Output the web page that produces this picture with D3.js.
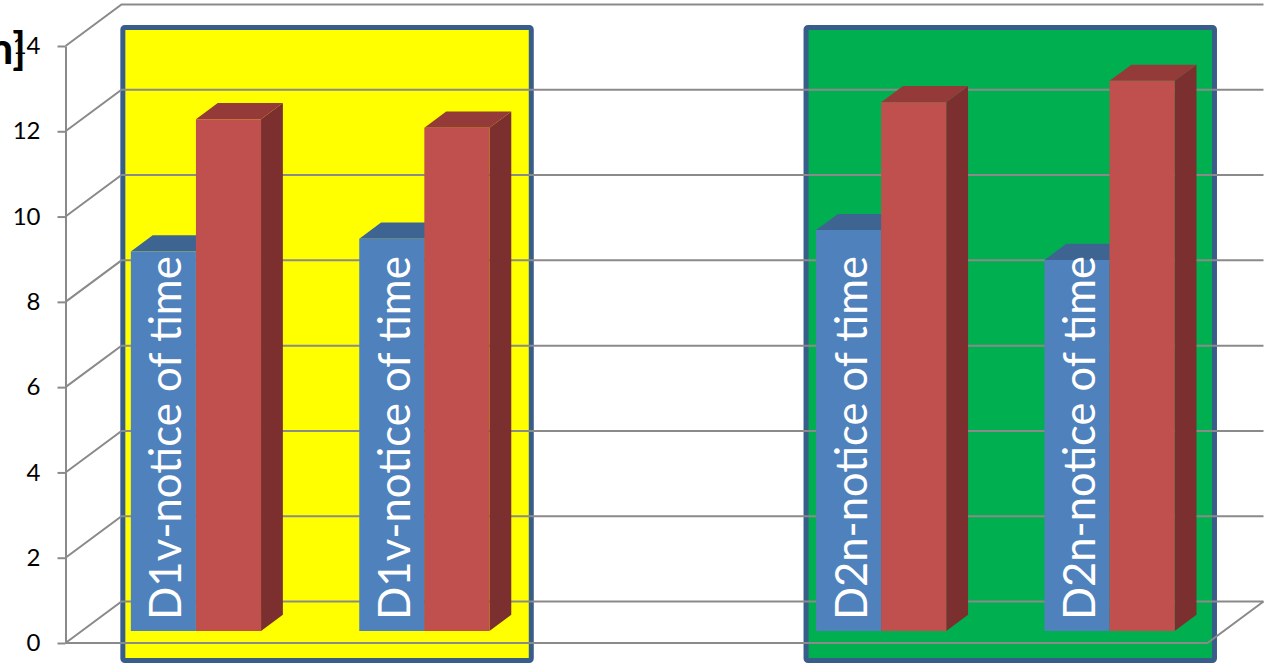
<!DOCTYPE html>
<html>
<head>
<meta charset="utf-8">
<script src="https://cdn.jsdelivr.net/npm/d3@7"></script>
<style>
  html, body { margin: 0; padding: 0; background: #ffffff; }
  svg { display: block; }
</style>
</head>
<body>
<svg id="chart" width="1268" height="671"></svg>
<script>
// ---- data ----
const categories = ["D1v-notice of time", "D1v-notice of time", "", "D2n-notice of time", "D2n-notice of time"];
const blueValues = [8.9, 9.2, null, 9.4, 8.7];
const redValues  = [12.0, 11.8, null, 12.4, 12.9];
const yTicks = [0, 2, 4, 6, 8, 10, 12, 14];
const axisTitle = "Time [min]";
// highlighted category ranges drawn as framed panels behind the plot
const panelFrom  = [0, 3];
const panelTo    = [1, 4];
const panelFills = ["#FFFF00", "#00B050"];

// ---- layout ----
const svg = d3.select("#chart");
const X0 = 65.5, Y0 = 643;          // front-left corner of the floor
const plotW = 1142, plotH = 597;    // front plane size
const DX = 56, DY = -41.5;          // full depth of the 3-D box
const F0 = 0.29, F1 = 0.68;         // depth fractions of the column front/back faces

const x = d3.scaleBand().domain(d3.range(categories.length)).range([0, plotW])
  .paddingInner(0.43).paddingOuter(0.215);
const xs = d3.scaleBand().domain([0, 1]).range([0, x.bandwidth()]);
const y = d3.scaleLinear().domain([0, 14]).range([0, plotH]);
const yAxisScale = d3.scaleLinear().domain([0, 14]).range([Y0, Y0 - plotH]);

// oblique projection: front-plane x, value, depth fraction -> screen point
function proj(xf, v, f) {
  return [X0 + xf + f * DX, Y0 - y(v) + f * DY];
}
const poly = pts => "M" + pts.map(p => p.join(",")).join("L") + "Z";

// ---- framed panels ----
const gPanels = svg.append("g");
const panelPadL = [8, 10], panelPadR = [20, 18];
panelFrom.forEach((from, k) => {
  const left = proj(x(from) + xs(0), 0, F0)[0] - panelPadL[k];
  const right = proj(x(panelTo[k]) + xs(1) + xs.bandwidth(), 0, F1)[0] + panelPadR[k];
  gPanels.append("rect")
    .attr("x", left).attr("y", 27.5)
    .attr("width", right - left).attr("height", 633)
    .attr("rx", 2)
    .attr("fill", panelFills[k])
    .attr("stroke", "#385D8A")
    .attr("stroke-width", 5);
});

// ---- walls: gridlines on side and back wall ----
const gridColor = "#8A8A8A";
const gGrid = svg.append("g").attr("fill", "none").attr("stroke", gridColor).attr("stroke-width", 2);
yTicks.forEach(v => {
  const a = proj(0, v, 0), b = proj(0, v, 1), c = proj(plotW, v, 1);
  gGrid.append("path").attr("d", "M" + a + "L" + b + "L" + c);
});
// floor front and right edges
{
  const a = proj(0, 0, 0), b = proj(plotW, 0, 0), c = proj(plotW, 0, 1);
  gGrid.append("path").attr("d", "M" + a + "L" + b + "L" + c);
}

// ---- value axis ----
const axis = d3.axisLeft(yAxisScale).tickValues(yTicks).tickSize(8).tickSizeOuter(0).tickPadding(17)
  .tickFormat(d3.format("d"));
const gAxis = svg.append("g").attr("transform", `translate(${X0},0)`).call(axis);
gAxis.select(".domain").attr("stroke", gridColor).attr("stroke-width", 2);
gAxis.selectAll(".tick line").attr("stroke", gridColor).attr("stroke-width", 2);
gAxis.selectAll(".tick text")
  .attr("font-family", "Lato, 'Open Sans', sans-serif")
  .attr("font-size", 24)
  .attr("fill", "#000");

// ---- 3-D columns ----
const series = [
  { values: blueValues, front: "#4F81BD", top: "#3E6592", side: "#36577F" },
  { values: redValues,  front: "#C0504D", top: "#943B39", side: "#7B2F2E" }
];
const gBars = svg.append("g");
categories.forEach((cat, i) => {
  series.forEach((s, j) => {
    const v = s.values[i];
    if (v == null) return;
    const xa = x(i) + xs(j), xb = xa + xs.bandwidth();
    const g = gBars.append("g");
    g.append("path").attr("fill", s.side)
      .attr("d", poly([proj(xb, 0, F0), proj(xb, v, F0), proj(xb, v, F1), proj(xb, 0, F1)]));
    g.append("path").attr("fill", s.top)
      .attr("d", poly([proj(xa, v, F0), proj(xb, v, F0), proj(xb, v, F1), proj(xa, v, F1)]));
    g.append("path").attr("fill", s.front)
      .attr("d", poly([proj(xa, 0, F0), proj(xb, 0, F0), proj(xb, v, F0), proj(xa, v, F0)]));
  });
});

// ---- category labels written up the blue columns ----
const gLab = svg.append("g");
const targetLen = 364;
categories.forEach((cat, i) => {
  if (!cat || blueValues[i] == null) return;
  const cx = proj(x(i) + xs(0) + xs.bandwidth() / 2, 0, F0);
  const t = gLab.append("text")
    .attr("transform", `translate(${cx[0] + 18},${cx[1] - 11}) rotate(-90)`)
    .attr("font-family", "Lato, 'Open Sans', sans-serif")
    .attr("font-size", 48)
    .attr("fill", "#ffffff")
    .attr("text-anchor", "start")
    .text(cat);
  const len = t.node().getComputedTextLength();
  t.attr("font-size", 48 * targetLen / len);
});

// ---- axis title (runs off the left edge) ----
svg.append("text")
  .attr("x", 26).attr("y", 64)
  .attr("text-anchor", "end")
  .attr("font-family", "Lato, 'Open Sans', sans-serif")
  .attr("font-weight", 700)
  .attr("font-size", 44)
  .attr("fill", "#000")
  .text(axisTitle);
</script>
</body>
</html>
